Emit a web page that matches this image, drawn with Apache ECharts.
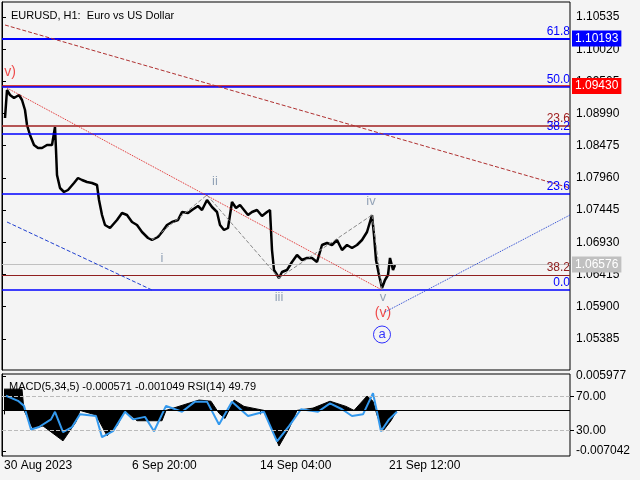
<!DOCTYPE html>
<html>
<head>
<meta charset="utf-8">
<script src="https://cdn.jsdelivr.net/npm/echarts@6/dist/echarts.min.js"></script>
<style>
  html, body { margin: 0; padding: 0; background: #f4f4f4; }
  #main { width: 640px; height: 480px; }
</style>
</head>
<body>
<div id="main"></div>
<script type="text/javascript">
// bar index (approx), close price
var priceData = [[3,1.08919],[5,1.09367],[8,1.09287],[12,1.09239],[17,1.09287],[20,1.09207],[23,1.09047],[25,1.08807],[28,1.08647],[32,1.08487],[36,1.08439],[40,1.08439],[45,1.08487],[50,1.08487],[53,1.08775],[54,1.08407],[55,1.08007],[58,1.07799],[62,1.07735],[66,1.07767],[72,1.07879],[76,1.07959],[80,1.07927],[85,1.07895],[90,1.07879],[95,1.07847],[97,1.07607],[100,1.07367],[103,1.07207],[108,1.07159],[115,1.07287],[120,1.07399],[125,1.07367],[130,1.07255],[135,1.07207],[140,1.07095],[146,1.06999],[150,1.06967],[156,1.07015],[160,1.07095],[165,1.07207],[170,1.07255],[176,1.07287],[180,1.07415],[186,1.07399],[190,1.07447],[196,1.07511],[200,1.07447],[205,1.07607],[210,1.07495],[215,1.07415],[218,1.07207],[222,1.07127],[226,1.07159],[230,1.07575],[234,1.07479],[238,1.07527],[242,1.07447],[246,1.07367],[250,1.07415],[255,1.07447],[260,1.07351],[265,1.07415],[268,1.07447],[270,1.06807],[272,1.06487],[277,1.06359],[280,1.06455],[285,1.06487],[290,1.06615],[295,1.06727],[300,1.06647],[305,1.06679],[310,1.06679],[315,1.06615],[320,1.06887],[325,1.06919],[330,1.06887],[335,1.06967],[340,1.06807],[345,1.06887],[350,1.06839],[355,1.06887],[360,1.06967],[365,1.07095],[370,1.07367],[372,1.07047],[374,1.06647],[377,1.06407],[380,1.06199],[383,1.06327],[386,1.06407],[388,1.06679],[391,1.06487],[393,1.06567]];

var macdData = [[2,0.0037],[20,0.0037],[22,0],[31,-0.0032],[41,-0.0027],[61,-0.0053],[74,-0.002],[78,0],[94,-0.0008],[105,-0.0044],[115,-0.0027],[123,0],[135,-0.0018],[160,-0.0018],[164,0],[197,0.0018],[209,0.0016],[217,-0.0005],[223,-0.0014],[232,0.0018],[242,0.0007],[262,0],[277,-0.0062],[287,-0.0032],[295,0],[311,0.0004],[328,0.0016],[344,0.0007],[352,0],[365,0.0025],[371,0.0016],[375,-0.0008],[381,-0.0036],[389,-0.0018],[395,0]];

var rsiData = [[4,71],[16,65],[22,59],[29,31],[37,34],[49,43],[53,52],[61,28],[70,34],[78,49],[94,47],[100,22],[111,29],[123,52],[131,43],[143,46],[152,29],[164,59],[180,52],[193,64],[205,64],[217,37],[230,64],[246,47],[262,52],[275,17],[287,35],[299,55],[316,52],[328,62],[340,55],[350,47],[361,49],[371,74],[375,52],[379,29],[387,43],[395,52]];

var priceTicks = [1.10535,1.10020,1.09505,1.08990,1.08475,1.07960,1.07445,1.06930,1.06415,1.05900,1.05385];
var timeLabels = ['30 Aug 2023','6 Sep 20:00','14 Sep 04:00','21 Sep 12:00'];
var timeLabelPos = [2,130,258,387];

// levels: [price, color, label, label color, width]
var levels = [
  [1.10193,'#0000ff','61.8','#0000ff',2],
  [1.09430,'#cc0000','','#cc0000',1.5],
  [1.09414,'#0000ff','50.0','#0000ff',1.5],
  [1.08791,'#a02020','23.6','#a02020',1.5],
  [1.08663,'#0000ff','38.2','#0000ff',1.5],
  [1.07703,'#0000ff','23.6','#0000ff',1.5],
  [1.06407,'#902020','38.2','#902020',1],
  [1.06167,'#0000ff','0.0','#0000ff',1.5]
];
var priceTags = [[1.10193,'#0000ff'],[1.09430,'#ff0000'],[1.06576,'#c0c0c0']];
var currentPrice = 1.06576;

// trend lines [x1,p1,x2,p2,color,type]
var trendLines = [
  [3,1.10407,568,1.07799,'#b03030','dashed'],
  [5,1.09399,380,1.06167,'#e02020','dotted'],
  [5,1.07255,150,1.06167,'#2040d0','dashed'],
  [383,1.05815,568,1.07367,'#2040d0','dotted'],
  [150,1.06967,205,1.07687,'#888888','dashed'],
  [205,1.07687,277,1.06359,'#888888','dashed'],
  [277,1.06359,370,1.07367,'#888888','dashed'],
  [370,1.07367,380,1.06167,'#888888','dashed']
];

// wave labels [x, price, text, color, size]
var waveLabels = [
  [8,1.09655,'v)','#ee2020',14],
  [213,1.07911,'ii','#7a8fa8',13],
  [160,1.06679,'i','#7a8fa8',13],
  [277,1.06055,'iii','#7a8fa8',13],
  [369,1.07591,'iv','#7a8fa8',13],
  [381,1.06055,'v','#7a8fa8',13],
  [381,1.05799,'(v)','#ee2020',14]
];

var fnt = 'Liberation Sans';
var chart = echarts.init(document.getElementById('main'));

var lvlLines = levels.map(function (l) {
  return {
    yAxis: l[0],
    lineStyle: { color: l[1], width: l[4], type: 'solid' },
    label: { show: !!l[2], formatter: l[2], position: 'insideEndTop', color: l[3], fontSize: 12, fontFamily: fnt, distance: [0, 1] }
  };
});
lvlLines.push({ yAxis: currentPrice, lineStyle: { color: '#c0c0c0', width: 1, type: 'solid' }, label: { show: false } });
priceTags.forEach(function (t) {
  lvlLines.push({
    yAxis: t[0],
    lineStyle: { color: 'rgba(0,0,0,0)', width: 0 },
    label: { show: true, position: 'end', formatter: t[0].toFixed(5), color: '#fff', backgroundColor: t[1], padding: [2, 3], fontSize: 12, fontFamily: fnt, distance: 2 }
  });
});
var trendMark = trendLines.map(function (t) {
  return [
    { coord: [t[0], t[1]], lineStyle: { color: t[4], type: t[5], width: 1 } },
    { coord: [t[2], t[3]] }
  ];
});

chart.setOption({
  backgroundColor: '#f4f4f4',
  animation: false,
  textStyle: { fontFamily: fnt },
  title: [
    { text: 'EURUSD, H1:  Euro vs US Dollar', left: 6, top: 5, textStyle: { fontSize: 11, fontWeight: 'normal', color: '#000', fontFamily: fnt } },
    { text: 'MACD(5,34,5) -0.000571 -0.001049 RSI(14) 49.79', left: 4, top: 376, textStyle: { fontSize: 11, fontWeight: 'normal', color: '#000', fontFamily: fnt } }
  ],
  grid: [
    { left: 2, right: 70, top: 2, bottom: 110, show: true, borderColor: '#000', borderWidth: 1, backgroundColor: '#f4f4f4' },
    { left: 2, right: 70, top: 374, bottom: 24, show: true, borderColor: '#000', borderWidth: 1, backgroundColor: '#f4f4f4' }
  ],
  xAxis: [
    { type: 'value', gridIndex: 0, min: 0, max: 568, axisLabel: { show: false }, axisTick: { show: false }, axisLine: { show: false }, splitLine: { show: false } },
    { type: 'value', gridIndex: 1, min: 0, max: 568, axisLine: { show: false }, splitLine: { show: false },
      axisTick: { show: true, customValues: timeLabelPos, length: 4, lineStyle: { color: '#000' } },
      axisLabel: { customValues: timeLabelPos, color: '#000', fontSize: 12, align: 'left', margin: 4,
        formatter: function (v) { return timeLabels[timeLabelPos.indexOf(v)] || ''; } } }
  ],
  yAxis: [
    { type: 'value', gridIndex: 0, position: 'right', min: 1.04887, max: 1.10775, splitLine: { show: false },
      axisLine: { show: true, lineStyle: { color: '#000' } },
      axisTick: { show: true, customValues: priceTicks, length: 4, inside: false, lineStyle: { color: '#000' } },
      axisLabel: { customValues: priceTicks, color: '#000', fontSize: 12, margin: 6, formatter: function (v) { return v.toFixed(5); } } },
    { type: 'value', gridIndex: 1, position: 'right', min: -0.007934, max: 0.006334, splitLine: { show: false },
      axisLine: { show: true, lineStyle: { color: '#000' } },
      axisTick: { show: true, customValues: [0.005977, -0.007042], length: 4, lineStyle: { color: '#000' } },
      axisLabel: { customValues: [0.005977, -0.007042], color: '#000', fontSize: 12, margin: 6, formatter: function (v) { return v.toFixed(6); } } },
    { type: 'value', gridIndex: 1, position: 'right', min: -0.3, max: 96.7, axisLine: { show: false },
      splitLine: { show: false },
      axisTick: { show: true, customValues: [70, 30], length: 4, lineStyle: { color: '#000' } },
      axisLabel: { customValues: [70, 30], color: '#000', fontSize: 12, margin: 6, formatter: function (v) { return v.toFixed(2); } } }
  ],
  series: [
    { type: 'line', xAxisIndex: 0, yAxisIndex: 0, data: priceData, symbol: 'none', lineStyle: { color: '#000', width: 2.5 }, z: 3 },
    { type: 'line', xAxisIndex: 0, yAxisIndex: 0, data: [], z: 2,
      markLine: { silent: true, symbol: 'none', precision: 5, data: lvlLines.concat(trendMark) } },
    { type: 'scatter', xAxisIndex: 0, yAxisIndex: 0, symbolSize: 0,
      data: waveLabels.map(function (w) {
        return { value: [w[0], w[1]], label: { show: true, formatter: w[2], color: w[3], fontSize: w[4], position: 'inside', fontFamily: fnt } };
      }) },
    { type: 'scatter', xAxisIndex: 0, yAxisIndex: 0, symbol: 'circle', symbolSize: 17,
      itemStyle: { color: 'rgba(0,0,0,0)', borderColor: '#0000ff', borderWidth: 1 },
      label: { show: true, formatter: 'a', position: 'inside', color: '#0000ff', fontSize: 13 },
      data: [[380, 1.05455]] },
    { type: 'line', xAxisIndex: 1, yAxisIndex: 1, data: macdData, symbol: 'none',
      lineStyle: { color: '#000', width: 1 }, areaStyle: { color: '#000', opacity: 1 },
      markLine: { silent: true, symbol: 'none', precision: 6, label: { show: false }, data: [{ yAxis: 0, lineStyle: { color: '#000', width: 1, type: 'solid' } }] } },
    { type: 'line', xAxisIndex: 1, yAxisIndex: 2, data: rsiData, symbol: 'none', lineStyle: { color: '#3399ee', width: 2 },
      markLine: { silent: true, symbol: 'none', label: { show: false }, lineStyle: { color: '#bbbbbb', type: 'dashed', width: 1 }, data: [{ yAxis: 70 }, { yAxis: 30 }] } }
  ]
});
</script>
</body>
</html>
